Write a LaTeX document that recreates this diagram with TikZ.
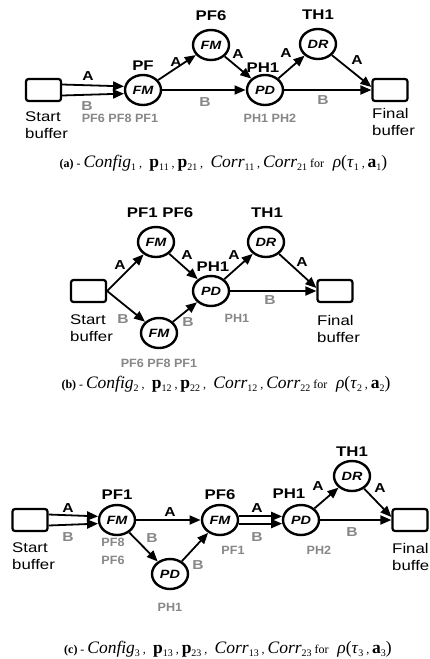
\documentclass[tikz,border=0pt]{standalone}
\usepackage{fontspec}
\setmainfont{Liberation Sans}
\newfontfamily\capfont{Liberation Serif}
\usetikzlibrary{arrows.meta,shapes.geometric}
\definecolor{lblgray}{RGB}{135,135,135}

% caption helpers
\newcommand\lowsub[1]{\raisebox{-3.5pt}{\fontsize{10}{10}\selectfont #1}}
\newcommand\capsmall[1]{{\fontsize{12}{14}\selectfont #1}}
\newcommand\capline[3]{%
  \capsmall{\bfseries (#1)}\,\capsmall{-}\,\textit{Config}\lowsub{#2}\,\capsmall{,}\,
  \textbf{p}\lowsub{1#2}\,\capsmall{,}\,\textbf{p}\lowsub{2#2}\,\capsmall{,}\,
  \textit{Corr}\lowsub{1#2}\,\capsmall{,}\,\textit{Corr}\lowsub{2#2}\,\capsmall{for}\ \
  \textit{ρ}(\textit{τ}\lowsub{#3}\,\capsmall{,}\,\textbf{a}\lowsub{#3})}

\tikzset{
  wide/.style={xscale=1.2},
  proc/.style={wide, ellipse, draw, line width=2.4pt, minimum width=30pt, minimum height=30pt,
    inner sep=0pt, font=\fontsize{12}{12}\selectfont\bfseries\itshape},
  buf/.style={rectangle, draw, line width=2.2pt, rounded corners=2.5pt,
    minimum width=35pt, minimum height=22pt},
  flow/.style={line width=1.8pt, -{Triangle[length=11pt,width=9pt]}},
  tag/.style={wide, font=\fontsize{14}{14}\selectfont\bfseries, inner sep=0pt},
  alt/.style={xscale=1.05, font=\fontsize{12}{12}\selectfont\bfseries, text=lblgray, inner sep=0pt},
  ra/.style={wide, font=\fontsize{13}{13}\selectfont\bfseries, inner sep=0pt},
  rb/.style={ra, text=lblgray},
  bufname/.style={wide, font=\fontsize{14}{17}\selectfont, align=left, inner sep=0pt, anchor=north west},
  capt/.style={font=\capfont\fontsize{17.5}{19}\selectfont, inner sep=0pt, anchor=base},
}

\begin{document}
\begin{tikzpicture}[x=1pt, y=-1pt]
\useasboundingbox (0,0) rectangle (429,659);

% ---------------- configuration 1 ----------------
\node[buf] (sa) at (43.5,90) {};
\node[bufname] (sat) at (25,112) {Start\\buffer};
\node[proc] (fa1) at (143,90) {FM};
\node[proc] (fa2) at (211,45) {FM};
\node[proc] (pa) at (265,90) {PD};
\node[proc] (da) at (318,44) {DR};
\node[buf] (ea) at (390,90) {};
\node[bufname] (eat) at (372,108) {Final\\buffer};

\node[tag] (ta1) at (143,66) {PF};
\node[tag] (ta2) at (211,16) {PF6};
\node[tag] (ta3) at (263,68) {PH1};
\node[tag] (ta4) at (318,15) {TH1};
\node[alt] (ga1) at (120,118) {PF6 PF8 PF1};
\node[alt] (ga2) at (270,118) {PH1 PH2};

\draw[flow] ([yshift=5.5pt]sa.east) -- (fa1.167);
\draw[flow] ([yshift=-5.5pt]sa.east) -- (fa1.193);
\draw[flow] (fa1) -- (fa2);
\draw[flow] (fa1) -- (pa);
\draw[flow] (fa2) -- (pa);
\draw[flow] (pa) -- (da);
\draw[flow] (da) -- ([yshift=3pt]ea.west);
\draw[flow] (pa) -- (ea);

\node[ra] (la1) at (88,76) {A};
\node[rb] (la2) at (87,106) {B};
\node[ra] (la3) at (176,62) {A};
\node[rb] (la4) at (205,102) {B};
\node[ra] (la5) at (238,54) {A};
\node[ra] (la6) at (286,53) {A};
\node[ra] (la7) at (357,60) {A};
\node[rb] (la8) at (323,100) {B};

\node[capt] (capa) at (223.5,167) {\capline{a}{1}{1}};

% ---------------- configuration 2 ----------------
\node[buf] (sb) at (88.5,291) {};
\node[bufname] (sbt) at (70,315) {Start\\buffer};
\node[proc] (fb1) at (156,242) {FM};
\node[proc] (fb2) at (159,333) {FM};
\node[proc] (pb) at (211,291) {PD};
\node[proc] (db) at (266,242) {DR};
\node[buf] (eb) at (335,291) {};
\node[bufname] (ebt) at (317,315) {Final\\buffer};

\node[tag] (tb1) at (160,213) {PF1 PF6};
\node[tag] (tb2) at (267,213) {TH1};
\node[tag] (tb3) at (213,267) {PH1};
\node[alt] (gb1) at (159,363) {PF6 PF8 PF1};
\node[alt] (gb2) at (237,318) {PH1};

\draw[flow] (sb.east) -- (fb1);
\draw[flow] (sb.east) -- (fb2);
\draw[flow] (fb1) -- (pb);
\draw[flow] (fb2) -- (pb);
\draw[flow] (pb) -- (db);
\draw[flow] (db) -- ([yshift=3pt]eb.west);
\draw[flow] (pb) -- (eb);

\node[ra] (lb1) at (120,265) {A};
\node[rb] (lb2) at (123,319) {B};
\node[ra] (lb3) at (187,255) {A};
\node[rb] (lb4) at (188,322) {B};
\node[ra] (lb5) at (234,255) {A};
\node[ra] (lb6) at (302,262) {A};
\node[rb] (lb7) at (270,300) {B};

\node[capt] (capb) at (226,388) {\capline{b}{2}{2}};

% ---------------- configuration 3 ----------------
\node[buf] (sc) at (30,520) {};
\node[bufname] (sct) at (12,543) {Start\\buffer};
\node[proc] (fc1) at (117,520) {FM};
\node[proc] (fc2) at (220,520) {FM};
\node[proc] (pc1) at (170,574) {PD};
\node[proc] (pc2) at (301,520) {PD};
\node[proc] (dc) at (352,476) {DR};
\node[buf] (ec) at (410,520) {};
\node[bufname] (ect) at (392,543) {Final\\buffer};

\node[tag] (tc1) at (117,495) {PF1};
\node[tag] (tc2) at (220,495) {PF6};
\node[tag] (tc3) at (289,494) {PH1};
\node[tag] (tc4) at (352,452) {TH1};
\node[alt] (gc1) at (113,542) {PF8};
\node[alt] (gc2) at (113,560) {PF6};
\node[alt] (gc3) at (233,550) {PF1};
\node[alt] (gc4) at (170,607) {PH1};
\node[alt] (gc5) at (319,550) {PH2};

\draw[flow] ([yshift=5.5pt]sc.east) -- (fc1.167);
\draw[flow] ([yshift=-5.5pt]sc.east) -- (fc1.193);
\draw[flow] (fc1) -- (fc2);
\draw[flow] (fc1) -- (pc1);
\draw[flow] (pc1) -- (fc2);
\draw[flow] (fc2.13) -- (pc2.167);
\draw[flow] (fc2.-13) -- (pc2.193);
\draw[flow] (pc2) -- (dc);
\draw[flow] (dc) -- ([yshift=3pt]ec.west);
\draw[flow] (pc2) -- (ec);

\node[ra] (lc1) at (68,508) {A};
\node[rb] (lc2) at (68,537) {B};
\node[ra] (lc3) at (170,512) {A};
\node[rb] (lc4) at (152,538) {B};
\node[rb] (lc5) at (198,565) {B};
\node[ra] (lc6) at (257,508) {A};
\node[rb] (lc7) at (257,537) {B};
\node[ra] (lc8) at (318,486) {A};
\node[ra] (lc9) at (380,488) {A};
\node[rb] (lc10) at (352,532) {B};

\node[capt] (capc) at (228,653) {\capline{c}{3}{3}};
\end{tikzpicture}
\end{document}
